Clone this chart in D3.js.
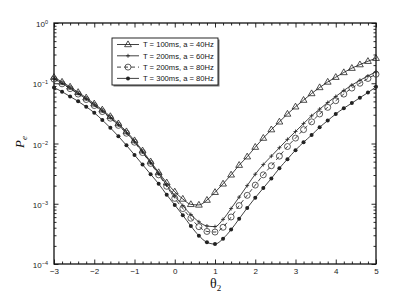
<!DOCTYPE html>
<html>
<head>
<meta charset="utf-8">
<script src="https://cdn.jsdelivr.net/npm/d3@7"></script>
<style>
  body { margin: 0; background: #fff; }
  .tick text { font-family: "Liberation Sans", Arial, sans-serif; font-size: 8px; fill: #222; }
  .axis path { display: none; }
  .axis line { stroke: #111; stroke-width: 0.9; }
  .legend text { font-family: "Liberation Sans", Arial, sans-serif; font-size: 7.6px; fill: #111; }
</style>
</head>
<body>
<div id="chart"></div>
<script>
var svgWidth = 415;
var svgHeight = 298;

// plot box in pixels
var box = { left: 54, right: 376, top: 23, bottom: 264 };

// theta_2 values, one every 0.2 from -3 to 5
var theta = [-3, -2.8, -2.6, -2.4, -2.2, -2, -1.8, -1.6, -1.4, -1.2, -1, -0.8, -0.6, -0.4, -0.2,
  0, 0.2, 0.4, 0.6, 0.8, 1, 1.2, 1.4, 1.6, 1.8, 2, 2.2, 2.4, 2.6, 2.8, 3, 3.2, 3.4, 3.6, 3.8,
  4, 4.2, 4.4, 4.6, 4.8, 5];

// P_e
var pT100a40 = [0.126, 0.105, 0.0871, 0.0708, 0.0575, 0.0457, 0.0363, 0.0282, 0.0214, 0.0158,
  0.0112, 0.00759, 0.00501, 0.00331, 0.00224, 0.00158, 0.00120, 0.000977, 0.000955, 0.00115,
  0.00155, 0.00214, 0.00302, 0.00437, 0.00603, 0.00871, 0.0123, 0.0170, 0.0229, 0.0309,
  0.0407, 0.0525, 0.0676, 0.0851, 0.105, 0.126, 0.151, 0.178, 0.204, 0.232, 0.260];

var pT200a60 = [0.120, 0.100, 0.0832, 0.0676, 0.0550, 0.0437, 0.0347, 0.0269, 0.0204, 0.0151,
  0.0107, 0.00724, 0.00479, 0.00316, 0.00204, 0.00135, 0.000933, 0.000661, 0.000501, 0.000427,
  0.000417, 0.000550, 0.000832, 0.00129, 0.00200, 0.00309, 0.00447, 0.00617, 0.00851, 0.0117,
  0.0158, 0.0214, 0.0288, 0.0372, 0.0479, 0.0603, 0.0759, 0.0933, 0.112, 0.132, 0.155];

var pT200a80 = [0.117, 0.0977, 0.0813, 0.0661, 0.0537, 0.0427, 0.0339, 0.0263, 0.0200, 0.0148,
  0.0105, 0.00708, 0.00468, 0.00302, 0.00195, 0.00123, 0.000832, 0.000575, 0.000417, 0.000347,
  0.000339, 0.000407, 0.000603, 0.000933, 0.00138, 0.00204, 0.00302, 0.00427, 0.00617, 0.00891,
  0.0123, 0.0170, 0.0229, 0.0309, 0.0398, 0.0513, 0.0661, 0.0832, 0.100, 0.120, 0.141];

var pT300a80 = [0.0851, 0.0724, 0.0603, 0.0501, 0.0407, 0.0324, 0.0245, 0.0182, 0.0132, 0.00933,
  0.00646, 0.00447, 0.00309, 0.00214, 0.00141, 0.000955, 0.000646, 0.000427, 0.000295, 0.000229,
  0.000214, 0.000263, 0.000372, 0.000562, 0.000851, 0.00126, 0.00182, 0.00263, 0.00389, 0.00550,
  0.00776, 0.0105, 0.0138, 0.0186, 0.0240, 0.0309, 0.0385, 0.0468, 0.0575, 0.0700, 0.0871];

var seriesNames = ['T = 100ms, a = 40Hz', 'T = 200ms, a = 60Hz', 'T = 200ms, a = 80Hz', 'T = 300ms, a = 80Hz'];
var seriesMarkers = ['triangle', 'plus', 'circle', 'dot'];

var xTicks = [-3, -2, -1, 0, 1, 2, 3, 4, 5];
var yExponents = [-4, -3, -2, -1, 0];

var allSeries = [pT100a40, pT200a60, pT200a80, pT300a80].map(function(vals, i) {
  return {
    name: seriesNames[i],
    marker: seriesMarkers[i],
    values: vals.map(function(p, j) { return { t: theta[j], p: p }; })
  };
});

var svg = d3.select('#chart')
  .append('svg')
  .attr('width', svgWidth)
  .attr('height', svgHeight);

var xScale = d3.scaleLinear().domain([-3, 5]).range([box.left, box.right]);
var yScale = d3.scaleLog().domain([1e-4, 1]).range([box.bottom, box.top]);

// minor ticks
var xMinor = d3.range(-3, 5.001, 0.2).filter(function(v) { return Math.abs(v - Math.round(v)) > 1e-6; });
var yMinor = [];
yExponents.slice(0, -1).forEach(function(e) {
  for (var k = 2; k <= 9; k++) yMinor.push(k * Math.pow(10, e));
});
var yMajor = yExponents.map(function(e) { return Math.pow(10, e); });

function addAxis(axisFn, scale, tr, values, size, withLabels) {
  var ax = axisFn(scale).tickValues(values).tickSize(-size).tickPadding(4);
  if (!withLabels) ax.tickFormat('');
  return svg.append('g').attr('class', 'axis').attr('transform', tr).call(ax);
}

addAxis(d3.axisBottom, xScale, `translate(0, ${box.bottom})`, xMinor, 2.5, false);
addAxis(d3.axisTop, xScale, `translate(0, ${box.top})`, xMinor, 2.5, false);
addAxis(d3.axisTop, xScale, `translate(0, ${box.top})`, xTicks, 4.5, false);
var xAxisG = addAxis(d3.axisBottom, xScale, `translate(0, ${box.bottom})`, xTicks, 4.5, true);
xAxisG.selectAll('.tick text').text(function(d) { return d < 0 ? '\u2212' + Math.abs(d) : d; });

addAxis(d3.axisLeft, yScale, `translate(${box.left}, 0)`, yMinor, 2.5, false);
addAxis(d3.axisRight, yScale, `translate(${box.right}, 0)`, yMinor, 2.5, false);
addAxis(d3.axisRight, yScale, `translate(${box.right}, 0)`, yMajor, 4.5, false);
var yAxisG = addAxis(d3.axisLeft, yScale, `translate(${box.left}, 0)`, yMajor, 4.5, true);

// 10 with superscript exponent
yAxisG.selectAll('.tick text').each(function(d) {
  var e = Math.round(Math.log10(d));
  var t = d3.select(this).text(null).attr('dy', '0.45em').attr('x', -6);
  t.append('tspan').text('10');
  t.append('tspan').attr('dy', '-0.55em').style('font-size', '5.5px')
    .text(e < 0 ? '\u2212' + Math.abs(e) : e);
});

// plot frame
svg.append('rect')
  .attr('x', box.left).attr('y', box.top)
  .attr('width', box.right - box.left).attr('height', box.bottom - box.top)
  .attr('fill', 'none').attr('stroke', '#111').attr('stroke-width', 1.3);

var line = d3.line()
  .x(function(d) { return xScale(d.t); })
  .y(function(d) { return yScale(d.p); })
  .curve(d3.curveMonotoneX);

function drawMarker(g, kind, x, y) {
  if (kind === 'triangle') {
    g.append('path')
      .attr('d', `M${x},${y - 3.6}L${x + 3.4},${y + 2.2}L${x - 3.4},${y + 2.2}Z`)
      .attr('fill', 'none').attr('stroke', '#222').attr('stroke-width', 0.8);
  } else if (kind === 'plus') {
    g.append('path')
      .attr('d', `M${x - 2},${y}L${x + 2},${y}M${x},${y - 2}L${x},${y + 2}`)
      .attr('stroke', '#222').attr('stroke-width', 0.8);
  } else if (kind === 'circle') {
    g.append('circle').attr('cx', x).attr('cy', y).attr('r', 3)
      .attr('fill', 'none').attr('stroke', '#333').attr('stroke-width', 0.8);
  } else {
    g.append('circle').attr('cx', x).attr('cy', y).attr('r', 2)
      .attr('fill', '#222');
  }
}

var plot = svg.append('g');

allSeries.forEach(function(s) {
  plot.append('path')
    .datum(s.values)
    .attr('fill', 'none')
    .attr('stroke', '#111')
    .attr('stroke-width', 0.8)
    .attr('stroke-dasharray', s.marker === 'circle' ? '4,3' : null)
    .attr('d', line);
  var mg = plot.append('g');
  s.values.forEach(function(d) {
    drawMarker(mg, s.marker, xScale(d.t), yScale(d.p));
  });
});

// legend
var legend = svg.append('g').attr('class', 'legend');
var lgX = 112, lgY = 38, lgW = 106, lgH = 47;
legend.append('rect')
  .attr('x', lgX + 1.5).attr('y', lgY + 1.5).attr('width', lgW).attr('height', lgH)
  .attr('fill', '#777');
legend.append('rect')
  .attr('x', lgX).attr('y', lgY).attr('width', lgW).attr('height', lgH)
  .attr('fill', '#fff').attr('stroke', '#111').attr('stroke-width', 0.9);

allSeries.forEach(function(s, i) {
  var yy = lgY + 6.5 + i * 11.3;
  legend.append('line')
    .attr('x1', lgX + 5).attr('x2', lgX + 27).attr('y1', yy).attr('y2', yy)
    .attr('stroke', '#111').attr('stroke-width', 0.8)
    .attr('stroke-dasharray', s.marker === 'circle' ? '4,3' : null);
  drawMarker(legend, s.marker, lgX + 16, yy);
  legend.append('text')
    .attr('x', lgX + 31).attr('y', yy + 2.8)
    .text(s.name);
});

// axis titles
var xt = svg.append('text')
  .attr('x', 210).attr('y', 288)
  .style('font-family', '"Liberation Serif", "Times New Roman", serif')
  .style('font-size', '14px').attr('fill', '#111');
xt.append('tspan').text('\u03b8');
xt.append('tspan').attr('dy', 3).style('font-size', '9px').text('2');

var yt = svg.append('text')
  .attr('transform', 'translate(24, 148) rotate(-90)')
  .style('font-family', '"Liberation Serif", "Times New Roman", serif')
  .style('font-size', '13px').attr('fill', '#111');
yt.append('tspan').style('font-style', 'italic').text('P');
yt.append('tspan').attr('dy', 3).style('font-size', '9px').style('font-style', 'italic').text('e');
</script>
</body>
</html>
